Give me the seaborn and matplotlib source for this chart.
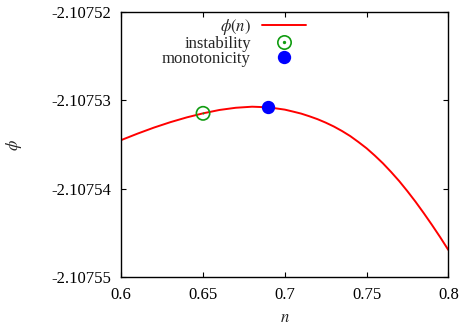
import matplotlib
matplotlib.use("Agg")
import matplotlib.pyplot as plt
from matplotlib.lines import Line2D
import seaborn as sns

# ---- data ----
n_vals = [0.60, 0.61, 0.62, 0.63, 0.64, 0.65, 0.66, 0.67, 0.68, 0.69, 0.70,
          0.705, 0.71, 0.715, 0.72, 0.725, 0.73, 0.735, 0.74, 0.745, 0.75,
          0.755, 0.76, 0.765, 0.77, 0.775, 0.78, 0.785, 0.79, 0.795, 0.80]
phi_vals = [-2.10753448, -2.10753375, -2.10753307, -2.10753246, -2.10753192,
            -2.10753146, -2.10753108, -2.10753083, -2.10753071, -2.10753078,
            -2.10753104, -2.10753126, -2.10753149, -2.10753179, -2.10753212,
            -2.10753251, -2.10753295, -2.10753346, -2.10753403, -2.10753470,
            -2.10753541, -2.10753623, -2.10753711, -2.10753809, -2.10753913,
            -2.10754027, -2.10754147, -2.10754275, -2.10754408, -2.10754546,
            -2.10754691]
instability_n = [0.65]
instability_phi = [-2.10753146]
monotonicity_n = [0.69]
monotonicity_phi = [-2.10753075]

x_ticks = [0.6, 0.65, 0.7, 0.75, 0.8]
x_tick_labels = ["0.6", "0.65", "0.7", "0.75", "0.8"]
y_ticks = [-2.10755, -2.10754, -2.10753, -2.10752]
y_tick_labels = ["-2.10755", "-2.10754", "-2.10753", "-2.10752"]

legend_labels = [r"$\phi(n)$", "instability", "monotonicity"]

# ---- style ----
sns.set_style("ticks")
plt.rcParams["font.family"] = ["Liberation Serif", "DejaVu Serif"]
plt.rcParams["mathtext.fontset"] = "stix"

RED = "#ff0000"
GREEN = "#119c11"
BLUE = "#0000ff"

fig = plt.figure(figsize=(4.61, 3.25), dpi=100)
ax = fig.add_axes([0.2631, 0.1468, 0.7094, 0.8163])

sns.lineplot(x=n_vals, y=phi_vals, ax=ax, color=RED, linewidth=1.4,
             sort=False, estimator=None)
sns.scatterplot(x=instability_n, y=instability_phi, ax=ax, marker="o", s=92,
                facecolor="none", edgecolor=GREEN, linewidth=1.2, zorder=3)
sns.scatterplot(x=instability_n, y=instability_phi, ax=ax, marker="o", s=2,
                color=GREEN, linewidth=0, zorder=4)
sns.scatterplot(x=monotonicity_n, y=monotonicity_phi, ax=ax, marker="o", s=92,
                color=BLUE, linewidth=0, zorder=3)

ax.set_xlim(x_ticks[0], x_ticks[-1])
ax.set_ylim(y_ticks[0], y_ticks[-1])
ax.set_xticks(x_ticks)
ax.set_xticklabels(x_tick_labels)
ax.set_yticks(y_ticks)
ax.set_yticklabels(y_tick_labels)
ax.tick_params(direction="in", length=3.6, width=0.8, labelsize=12,
               top=True, right=True, pad=7, colors="black")
for s in ax.spines.values():
    s.set_visible(True)
    s.set_linewidth(1.0)
    s.set_color("black")

ax.set_xlabel(r"$n$", fontsize=12)
ax.set_ylabel(r"$\phi$", fontsize=12)
ax.xaxis.set_label_coords(0.5, -0.125)
ax.yaxis.set_label_coords(-0.298, 0.5)

handles = [
    Line2D([], [], color=RED, linewidth=1.4),
    (Line2D([], [], marker="o", linestyle="", markerfacecolor="none",
            markeredgecolor=GREEN, markersize=9.6, markeredgewidth=1.2),
     Line2D([], [], marker="o", linestyle="", color=GREEN, markersize=1.4)),
    Line2D([], [], marker="o", linestyle="", color=BLUE, markersize=9.6,
           markeredgewidth=0),
]
leg = ax.legend(handles, legend_labels, loc="upper right",
                bbox_to_anchor=(0.564, 0.983), frameon=False,
                markerfirst=False, fontsize=12, handlelength=2.6,
                handletextpad=0.7, labelspacing=-0.05, borderpad=0,
                borderaxespad=0)

fig.savefig("out.png", dpi=100)
